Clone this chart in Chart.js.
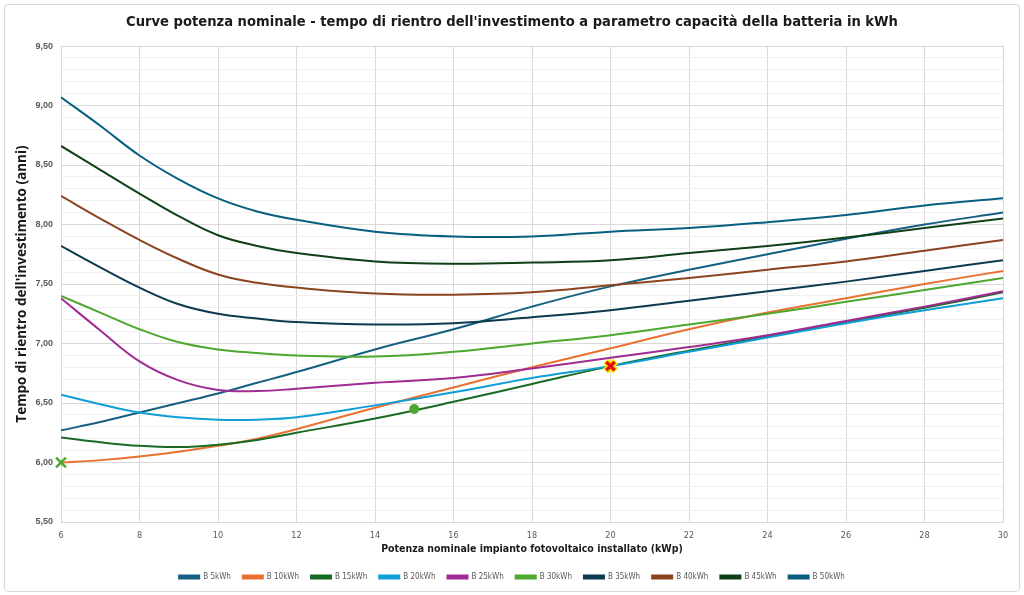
<!DOCTYPE html>
<html>
<head>
<meta charset="utf-8">
<script src="https://cdn.jsdelivr.net/npm/chart.js@4/dist/chart.umd.min.js"></script>
<style>
  html, body { margin: 0; padding: 0; background: #ffffff; }
  #wrap { position: relative; width: 1024px; height: 595px; }
  #frame { position: absolute; left: 4px; top: 4px; width: 1014px; height: 586px; border: 1px solid #d9d9d9; border-radius: 4px; pointer-events: none; }
</style>
</head>
<body>
<div id="wrap">
  <canvas id="c" width="1024" height="595"></canvas>
  <div id="frame"></div>
</div>
<script>
// ---- Data ----
const potenza = [6, 7, 8, 9, 10, 11, 12, 14, 16, 18, 20, 22, 24, 26, 28, 30];
const seriesLabels = ['B 5kWh', 'B 10kWh', 'B 15kWh', 'B 20kWh', 'B 25kWh', 'B 30kWh', 'B 35kWh', 'B 40kWh', 'B 45kWh', 'B 50kWh'];
const b5  = [6.27, 6.34, 6.42, 6.50, 6.58, 6.67, 6.76, 6.95, 7.12, 7.31, 7.48, 7.62, 7.75, 7.88, 8.00, 8.10];
const b10 = [6.00, 6.02, 6.05, 6.09, 6.14, 6.20, 6.28, 6.46, 6.63, 6.80, 6.96, 7.12, 7.26, 7.38, 7.50, 7.61];
const b15 = [6.21, 6.17, 6.14, 6.13, 6.15, 6.19, 6.25, 6.37, 6.51, 6.66, 6.81, 6.94, 7.06, 7.18, 7.30, 7.43];
const b20 = [6.57, 6.49, 6.42, 6.38, 6.36, 6.36, 6.38, 6.48, 6.59, 6.71, 6.81, 6.93, 7.05, 7.17, 7.28, 7.38];
const b25 = [7.38, 7.11, 6.85, 6.69, 6.61, 6.60, 6.62, 6.67, 6.71, 6.79, 6.88, 6.97, 7.07, 7.19, 7.31, 7.44];
const b30 = [7.40, 7.26, 7.12, 7.01, 6.95, 6.92, 6.90, 6.89, 6.93, 7.00, 7.07, 7.16, 7.25, 7.35, 7.45, 7.55];
const b35 = [7.82, 7.64, 7.47, 7.33, 7.25, 7.21, 7.18, 7.16, 7.17, 7.22, 7.28, 7.36, 7.44, 7.52, 7.61, 7.70];
const b40 = [8.24, 8.05, 7.87, 7.71, 7.58, 7.51, 7.47, 7.42, 7.41, 7.43, 7.49, 7.55, 7.62, 7.69, 7.78, 7.87];
const b45 = [8.66, 8.46, 8.26, 8.07, 7.91, 7.82, 7.76, 7.69, 7.67, 7.68, 7.70, 7.76, 7.82, 7.89, 7.97, 8.05];
const b50 = [9.07, 8.83, 8.58, 8.38, 8.22, 8.11, 8.04, 7.94, 7.90, 7.90, 7.94, 7.97, 8.02, 8.08, 8.16, 8.22];
// highlighted points
const markGreenX = [{x: 6, y: 6.00}];
const markGreenDot = [{x: 15, y: 6.45}];
const markRedX = [{x: 20, y: 6.81}];

const seriesValues = [b5, b10, b15, b20, b25, b30, b35, b40, b45, b50];
const seriesColors = ['#156082', '#E97132', '#196B24', '#0F9ED5', '#A02B93', '#4EA72E', '#0D3A4E', '#8C441E', '#0F4016', '#095F80'];

const narrow = "'Liberation Sans Narrow', 'DejaVu Sans Condensed', 'Roboto', sans-serif";

const lineSets = seriesValues.map((vals, i) => ({
  label: seriesLabels[i],
  data: potenza.map((x, j) => ({x: x, y: vals[j]})),
  borderColor: seriesColors[i],
  backgroundColor: seriesColors[i],
  borderWidth: 2,
  pointRadius: 0,
  pointHoverRadius: 0,
  tension: 0.4,
  fill: false,
  order: 100 - i
}));

const markerSets = [
  { label: '_m1', data: markGreenX, showLine: false, pointStyle: 'crossRot', pointRadius: 7, borderWidth: 2.5, borderColor: '#4EA72E', backgroundColor: '#4EA72E', clip: false, order: 2 },
  { label: '_m2', data: markGreenDot, showLine: false, pointStyle: 'circle', pointRadius: 5, borderWidth: 0, borderColor: '#4EA72E', backgroundColor: '#4EA72E', clip: false, order: 2 },
  { label: '_m3', data: markRedX, showLine: false, pointStyle: 'crossRot', pointRadius: 7, borderWidth: 7, borderColor: '#FFE600', backgroundColor: '#FFE600', clip: false, order: 2 },
  { label: '_m4', data: markRedX, showLine: false, pointStyle: 'crossRot', pointRadius: 6, borderWidth: 3.5, borderColor: '#E01010', backgroundColor: '#E01010', clip: false, order: 1 }
];

new Chart(document.getElementById('c'), {
  type: 'line',
  data: { datasets: lineSets.concat(markerSets) },
  options: {
    responsive: false,
    animation: false,
    layout: { padding: { left: 21, right: 21, top: 0, bottom: 4 } },
    plugins: {
      tooltip: { enabled: false },
      title: {
        display: true,
        text: "Curve potenza nominale - tempo di rientro dell'investimento a parametro capacità della batteria in kWh",
        color: '#1a1a1a',
        font: { family: narrow, size: 14.6, weight: 'bold' },
        padding: { top: 13, bottom: 15.5 }
      },
      legend: {
        position: 'bottom',
        labels: {
          filter: (item) => item.datasetIndex < 10,
          sort: (a, b) => a.datasetIndex - b.datasetIndex,
          boxWidth: 20,
          boxHeight: 3,
          padding: 12,
          color: '#595959',
          font: { family: narrow, size: 8 }
        }
      }
    },
    scales: {
      x: {
        type: 'linear',
        min: 6, max: 30,
        ticks: { stepSize: 2, color: '#595959', padding: 8, font: { family: narrow, size: 9 } },
        grid: { color: '#d9d9d9', drawTicks: false, lineWidth: 1 },
        border: { color: '#d9d9d9' },
        title: {
          display: true,
          text: 'Potenza nominale impianto fotovoltaico installato (kWp)',
          color: '#1a1a1a',
          font: { family: narrow, size: 10.5, weight: 'bold' },
          padding: { top: 0, bottom: 5.7 }
        },
        afterFit: (s) => { s.height = 39; }
      },
      y: {
        min: 5.5, max: 9.5,
        ticks: {
          stepSize: 0.1,
          maxTicksLimit: 100,
          autoSkip: false,
          color: '#595959',
          padding: 8,
          font: { family: "'Liberation Sans', Arial, sans-serif", size: 9, weight: 'bold' },
          callback: (v) => (Math.abs(v * 2 - Math.round(v * 2)) < 1e-6 ? v.toFixed(2).replace('.', ',') : '')
        },
        grid: {
          drawTicks: false,
          color: (ctx) => {
            const v = ctx.tick ? ctx.tick.value : 0;
            return Math.abs(v * 2 - Math.round(v * 2)) < 1e-6 ? '#d9d9d9' : '#f0f0f0';
          }
        },
        border: { display: false },
        title: {
          display: true,
          text: "Tempo di rientro dell'investimento (anni)",
          color: '#1a1a1a',
          font: { family: "'Open Sans', 'Liberation Sans', sans-serif", size: 13.5, weight: 'bold' },
          padding: { top: -7, bottom: 0 }
        },
        afterFit: (s) => { s.width = 40; }
      }
    }
  }
});
</script>
</body>
</html>
